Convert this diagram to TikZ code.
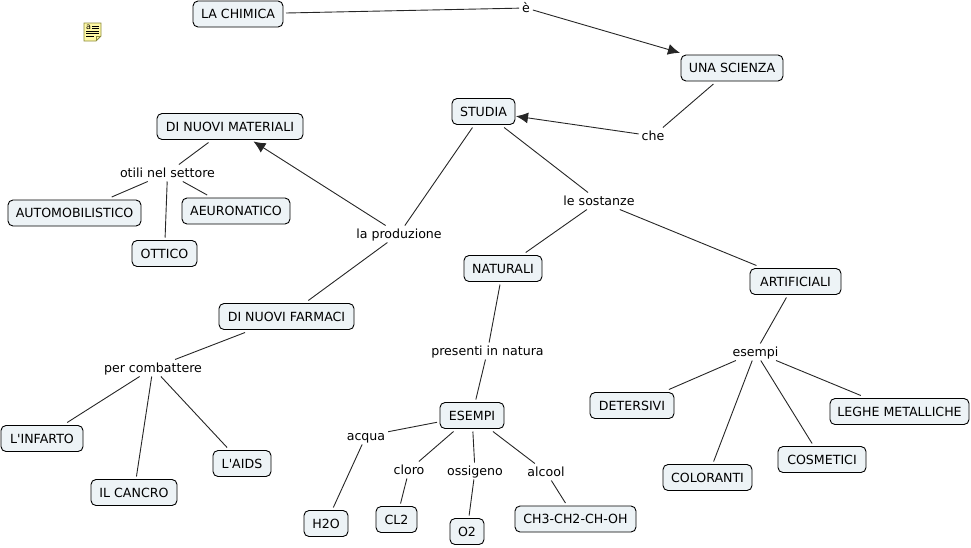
\documentclass[tikz,border=0pt]{standalone}
\usepackage{fontspec}
\setmainfont{DejaVu Sans}
\usetikzlibrary{arrows.meta}
\definecolor{boxfill}{HTML}{EDF3F6}
\definecolor{notefill}{HTML}{FFF9A6}
\definecolor{noteline}{HTML}{8A8A3C}

\begin{document}
\begin{tikzpicture}[
  x=1pt, y=-1pt,
  box/.style={rectangle, draw=black, line width=0.9pt, rounded corners=5pt, fill=boxfill, align=center,
              minimum height=26pt, inner sep=0pt, outer sep=3pt, font=\fontsize{12.6}{14}\selectfont},
  linklbl/.style={inner sep=0.5pt, outer sep=2.5pt, text height=9.5pt, text depth=1.5pt,
                  font=\fontsize{12.6}{14}\selectfont},
  link/.style={draw=black!85, line width=0.9pt},
  arrow/.style={link, -{Latex[length=12pt, width=11pt]}, shorten >=-2pt}
]
  \useasboundingbox (0,0) rectangle (971,547);
  % note icon
  \fill[notefill] (84,23) -- (101,23) -- (101,36) -- (96,41) -- (84,41) -- cycle;
  \draw[noteline, line width=0.8pt] (84,23) -- (101,23) -- (101,36) -- (96,41) -- (84,41) -- cycle;
  \draw[noteline, line width=0.6pt] (101,36) -- (96,36) -- (96,41);
  \draw[black, line width=0.7pt] (92,26) -- (99,26) (92,28.5) -- (99,28.5) (86,31) -- (99,31) (86,33.5) -- (99,33.5) (86,36) -- (94,36);
  \node[inner sep=0pt, font=\fontsize{8}{8}\selectfont] (noteicon) at (88.5,27) {a};

  \node[box, minimum width=90pt] (chimica) at (238,14) {LA CHIMICA};
  \node[box, minimum width=102pt] (scienza) at (732,68) {UNA SCIENZA};
  \node[box, minimum width=63pt] (studia) at (483.5,111.5) {STUDIA};
  \node[box, minimum width=146pt] (materiali) at (230,126.5) {DI NUOVI MATERIALI};
  \node[box, minimum width=133pt] (auto) at (74.5,213) {AUTOMOBILISTICO};
  \node[box, minimum width=108pt] (aero) at (236,211) {AEURONATICO};
  \node[box, minimum width=65pt] (ottico) at (164.5,253.5) {OTTICO};
  \node[box, minimum width=78pt] (naturali) at (503,268.5) {NATURALI};
  \node[box, minimum width=91pt] (artificiali) at (795.5,281.5) {ARTIFICIALI};
  \node[box, minimum width=135pt] (farmaci) at (286.5,316.5) {DI NUOVI FARMACI};
  \node[box, minimum width=64pt] (esempi) at (472,415.5) {ESEMPI};
  \node[box, minimum width=84pt] (detersivi) at (632,405.5) {DETERSIVI};
  \node[box, minimum width=139pt] (leghe) at (899.5,411.5) {LEGHE METALLICHE};
  \node[box, minimum width=89pt] (coloranti) at (707.5,477.5) {COLORANTI};
  \node[box, minimum width=88pt] (cosmetici) at (822,459.5) {COSMETICI};
  \node[box, minimum width=82pt] (infarto) at (42,438.5) {L\textquotesingle INFARTO};
  \node[box, minimum width=58pt] (aids) at (242,463.5) {L\textquotesingle AIDS};
  \node[box, minimum width=86pt] (cancro) at (134,492.5) {IL CANCRO};
  \node[box, minimum width=44pt] (htwoo) at (326,523.5) {H2O};
  \node[box, minimum width=41pt] (cltwo) at (396.5,519.5) {CL2};
  \node[box, minimum width=34pt] (otwo) at (467,531.5) {O2};
  \node[box, minimum width=121pt] (alcohol) at (575.5,519) {CH3-CH2-CH-OH};

  \node[linklbl] (e) at (526,8) {è};
  \node[linklbl] (che) at (653,136) {che};
  \node[linklbl] (settore) at (167.5,173) {otili nel settore};
  \node[linklbl] (produzione) at (399,234) {la produzione};
  \node[linklbl] (sostanze) at (599,201) {le sostanze};
  \node[linklbl] (presenti) at (487.5,351) {presenti in natura};
  \node[linklbl] (esempilbl) at (755.5,352) {esempi};
  \node[linklbl] (combattere) at (153,368) {per combattere};
  \node[linklbl] (acqua) at (366,436) {acqua};
  \node[linklbl] (cloro) at (409,470) {cloro};
  \node[linklbl] (ossigeno) at (475,471) {ossigeno};
  \node[linklbl] (alcool) at (546,472) {alcool};

  \draw[link] (chimica) -- (e);
  \draw[arrow] (e) -- (scienza);
  \draw[link] (scienza) -- (che);
  \draw[arrow] (che) -- (studia);
  \draw[link] (studia) -- (produzione);
  \draw[link] (studia) -- (sostanze);
  \draw[arrow] (produzione) -- (materiali);
  \draw[link] (produzione) -- (farmaci);
  \draw[link] (materiali) -- (settore);
  \draw[link] (settore) -- (auto);
  \draw[link] (settore) -- (aero);
  \draw[link] (settore) -- (ottico);
  \draw[link] (sostanze) -- (naturali);
  \draw[link] (sostanze) -- (artificiali);
  \draw[link] (naturali) -- (presenti);
  \draw[link] (presenti) -- (esempi);
  \draw[link] (artificiali) -- (esempilbl);
  \draw[link] (esempilbl) -- (detersivi);
  \draw[link] (esempilbl) -- (leghe);
  \draw[link] (esempilbl) -- (coloranti);
  \draw[link] (esempilbl) -- (cosmetici);
  \draw[link] (farmaci) -- (combattere);
  \draw[link] (combattere) -- (infarto);
  \draw[link] (combattere) -- (aids);
  \draw[link] (combattere) -- (cancro);
  \draw[link] (esempi) -- (acqua);
  \draw[link] (esempi) -- (cloro);
  \draw[link] (esempi) -- (ossigeno);
  \draw[link] (esempi) -- (alcool);
  \draw[link] (acqua) -- (htwoo);
  \draw[link] (cloro) -- (cltwo);
  \draw[link] (ossigeno) -- (otwo);
  \draw[link] (alcool) -- (alcohol);
\end{tikzpicture}
\end{document}
